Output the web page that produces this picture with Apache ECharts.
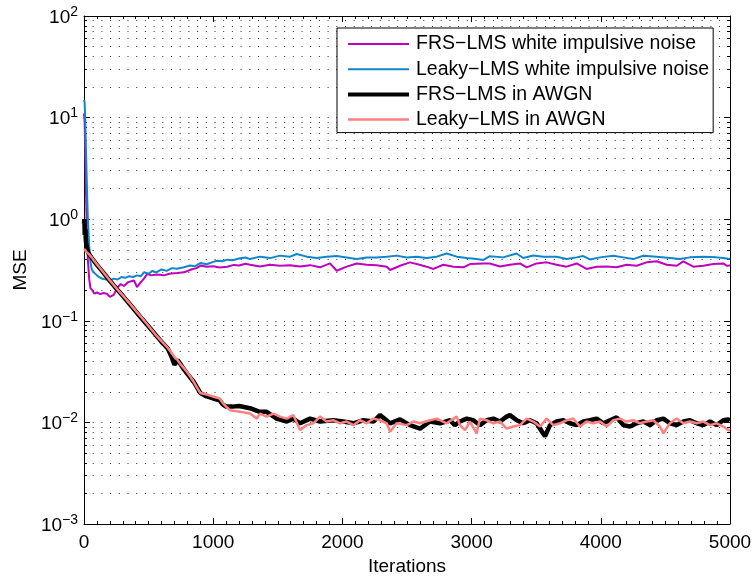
<!DOCTYPE html>
<html>
<head>
<meta charset="utf-8">
<script src="https://cdn.jsdelivr.net/npm/echarts@6/dist/echarts.min.js"></script>
<style>
html,body{margin:0;padding:0;background:#fff;}
#chart{width:755px;height:581px;}
</style>
</head>
<body>
<div id="chart"></div>
<script>
// ---- data (iteration, MSE) ----
const seriesNames = ['FRS\u2212LMS white impulsive noise', 'Leaky\u2212LMS white impulsive noise', 'FRS\u2212LMS in AWGN', 'Leaky\u2212LMS in AWGN'];
const xTicks = [0, 1000, 2000, 3000, 4000, 5000];
const yTicks = [1e-3, 1e-2, 1e-1, 1, 10, 100];

const frsImpulsive = [[0,11],[5,9],[10,4.5],[15,2],[20,1],[25,0.6],[30,0.4],[40,0.26],[50,0.21],[64,0.2],[80,0.185],[100,0.19],[125,0.183],[150,0.188],[177,0.185],[200,0.172],[230,0.18],[255,0.21],[284,0.23],[310,0.22],[340,0.24],[387,0.25],[410,0.215],[440,0.24],[464,0.26],[490,0.29],[520,0.28],[560,0.285],[620,0.28],[660,0.29],[720,0.295],[774,0.30],[830,0.32],[870,0.33],[903,0.35],[950,0.34],[1000,0.345],[1050,0.335],[1109,0.34],[1160,0.355],[1200,0.35],[1250,0.365],[1285,0.356],[1362,0.343],[1440,0.356],[1517,0.348],[1595,0.353],[1672,0.343],[1750,0.353],[1827,0.336],[1904,0.367],[1956,0.311],[2033,0.341],[2111,0.367],[2188,0.356],[2265,0.353],[2343,0.341],[2369,0.316],[2446,0.348],[2523,0.376],[2575,0.362],[2652,0.341],[2704,0.324],[2781,0.356],[2859,0.341],[2936,0.336],[2988,0.362],[3091,0.367],[3142,0.366],[3219,0.343],[3297,0.356],[3374,0.367],[3426,0.336],[3503,0.367],[3581,0.376],[3658,0.356],[3735,0.341],[3813,0.367],[3890,0.324],[3968,0.341],[4045,0.343],[4123,0.336],[4200,0.356],[4277,0.348],[4355,0.376],[4432,0.385],[4510,0.356],[4587,0.348],[4639,0.385],[4716,0.341],[4793,0.348],[4871,0.362],[4948,0.367],[4974,0.348],[5000,0.35]];

const leakyImpulsive = [[0,15],[5,14],[10,9],[15,5],[20,2.8],[25,1.6],[30,1.0],[40,0.55],[50,0.38],[60,0.32],[75,0.30],[100,0.28],[125,0.265],[150,0.258],[175,0.255],[206,0.25],[230,0.26],[260,0.255],[290,0.27],[320,0.265],[350,0.275],[380,0.27],[410,0.28],[440,0.275],[464,0.30],[500,0.29],[530,0.31],[560,0.30],[600,0.32],[640,0.31],[680,0.33],[720,0.325],[774,0.336],[820,0.35],[860,0.345],[900,0.37],[950,0.36],[1000,0.38],[1030,0.39],[1070,0.385],[1110,0.40],[1150,0.395],[1200,0.41],[1250,0.42],[1285,0.405],[1362,0.428],[1440,0.414],[1517,0.438],[1595,0.428],[1646,0.454],[1724,0.428],[1801,0.414],[1878,0.428],[1956,0.434],[2033,0.42],[2111,0.405],[2188,0.42],[2265,0.42],[2343,0.428],[2420,0.438],[2498,0.42],[2575,0.428],[2652,0.414],[2730,0.428],[2807,0.46],[2885,0.428],[2962,0.414],[3039,0.405],[3091,0.397],[3142,0.432],[3245,0.421],[3348,0.46],[3400,0.415],[3477,0.44],[3555,0.427],[3658,0.427],[3735,0.405],[3813,0.421],[3864,0.434],[3916,0.402],[3993,0.421],[4097,0.437],[4174,0.421],[4251,0.405],[4329,0.437],[4432,0.427],[4535,0.415],[4613,0.405],[4690,0.421],[4793,0.427],[4897,0.421],[4948,0.415],[5000,0.405]];

const frsAWGN = [[0,0.9],[3,1.0],[6,0.7],[10,0.8],[15,0.6],[20,0.55],[30,0.48],[40,0.45],[60,0.415],[100,0.355],[150,0.298],[200,0.248],[250,0.208],[300,0.176],[350,0.148],[400,0.124],[450,0.104],[500,0.088],[550,0.074],[600,0.062],[650,0.053],[675,0.045],[700,0.037],[725,0.041],[750,0.037],[775,0.033],[800,0.030],[850,0.025],[900,0.0195],[950,0.018],[1000,0.0172],[1050,0.0165],[1075,0.015],[1100,0.0143],[1150,0.0143],[1200,0.0145],[1285,0.0138],[1360,0.0127],[1414,0.0127],[1491,0.0109],[1569,0.0102],[1620,0.0109],[1672,0.0098],[1750,0.0109],[1827,0.0102],[1930,0.0105],[2007,0.0102],[2085,0.0098],[2162,0.0105],[2240,0.0102],[2291,0.0118],[2369,0.0098],[2446,0.0107],[2523,0.0094],[2601,0.0087],[2678,0.0102],[2756,0.0098],[2833,0.0105],[2870,0.0094],[2910,0.0102],[2962,0.0109],[3013,0.0105],[3065,0.0094],[3116,0.0105],[3168,0.0109],[3220,0.0102],[3271,0.0114],[3297,0.0118],[3349,0.0105],[3400,0.0098],[3452,0.0105],[3503,0.0098],[3545,0.0081],[3568,0.0073],[3607,0.0094],[3658,0.0102],[3710,0.0105],[3761,0.0098],[3813,0.0094],[3865,0.0102],[3916,0.0105],[3968,0.0109],[4019,0.0098],[4071,0.0105],[4123,0.0112],[4174,0.0094],[4226,0.0091],[4277,0.0098],[4329,0.0102],[4381,0.0094],[4432,0.0105],[4484,0.0109],[4535,0.0098],[4587,0.0094],[4639,0.0102],[4690,0.0105],[4742,0.0098],[4793,0.0094],[4845,0.0102],[4897,0.0094],[4948,0.0105],[4987,0.0107],[5000,0.0105]];

const leakyAWGN = [[0,0.51],[10,0.49],[20,0.475],[40,0.45],[60,0.42],[100,0.36],[150,0.30],[200,0.25],[250,0.21],[300,0.178],[350,0.150],[400,0.126],[450,0.106],[500,0.089],[550,0.074],[600,0.063],[650,0.054],[700,0.044],[725,0.041],[750,0.037],[775,0.034],[800,0.031],[825,0.028],[850,0.025],[875,0.022],[900,0.0195],[950,0.0188],[1000,0.018],[1050,0.0172],[1075,0.0155],[1100,0.0143],[1130,0.0132],[1208,0.0127],[1285,0.01225],[1337,0.0109],[1362,0.0122],[1414,0.0114],[1466,0.0122],[1517,0.0114],[1569,0.0109],[1620,0.0118],[1672,0.0084],[1724,0.0094],[1775,0.0098],[1827,0.0114],[1878,0.0102],[1930,0.0105],[1982,0.0098],[2033,0.0102],[2085,0.0094],[2136,0.0105],[2188,0.0098],[2240,0.0109],[2291,0.0105],[2343,0.0098],[2369,0.0081],[2420,0.0098],[2498,0.0094],[2549,0.0102],[2601,0.0098],[2678,0.0105],[2730,0.0109],[2807,0.0098],[2885,0.0114],[2910,0.0094],[2949,0.0084],[2987,0.0102],[3039,0.0078],[3065,0.0109],[3116,0.0105],[3168,0.0098],[3220,0.0102],[3271,0.0087],[3323,0.0091],[3374,0.0094],[3426,0.0109],[3478,0.0102],[3529,0.0091],[3581,0.0109],[3632,0.0094],[3684,0.0098],[3736,0.0105],[3787,0.0109],[3839,0.0091],[3890,0.0102],[3942,0.0098],[3994,0.0102],[4045,0.0091],[4097,0.0105],[4148,0.0109],[4200,0.0102],[4252,0.0105],[4303,0.0098],[4355,0.0102],[4406,0.0105],[4458,0.0091],[4484,0.0078],[4535,0.0098],[4587,0.0109],[4639,0.0098],[4690,0.0102],[4742,0.0098],[4793,0.0102],[4845,0.0094],[4897,0.0098],[4948,0.0091],[4987,0.0084],[5000,0.0083]];

// ---- chart ----
const FONT = '"Liberation Sans", Arial, Helvetica, sans-serif';
const COLORS = ['#BF00BF', '#0F86CC', '#000000', '#FF8080'];
const WIDTHS = [2, 2, 4.5, 2.5];
const LEGEND_WIDTHS = [2, 2, 4, 2.5];
const chart = echarts.init(document.getElementById('chart'), null, {renderer: 'canvas'});
const dotted = {color: '#333', width: 1, type: [1, 7.7]};
const axisLine = {show: true, onZero: false, lineStyle: {color: '#000', width: 1}};

function supLabel(v) {
  const e = Math.round(Math.log10(v));
  const t = e < 0 ? '\u2212' + (-e) : String(e);
  return '{b|10}{s|' + t + '}';
}
function legendIcon(w) {
  return 'path://M0,0 L61,0 L61,' + w + ' L0,' + w + ' Z';
}

const option = {
  animation: false,
  backgroundColor: '#fff',
  grid: {left: 84, right: 25, top: 16, bottom: 55, containLabel: false},
  legend: {
    orient: 'vertical',
    left: 337, top: 28,
    itemWidth: 61, itemHeight: 14, itemGap: 5.2,
    padding: [6, 4, 3, 11],
    borderColor: '#000', borderWidth: 1, backgroundColor: '#fff',
    symbolKeepAspect: true,
    textStyle: {fontFamily: FONT, fontSize: 19.5, color: '#000', padding: [0, 0, 0, 2]},
    data: seriesNames.map((n, i) => ({name: n, icon: legendIcon(LEGEND_WIDTHS[i]), itemStyle: {color: COLORS[i]}}))
  },
  xAxis: [{
    type: 'value', min: xTicks[0], max: xTicks[xTicks.length - 1], interval: 1000,
    axisLine: axisLine,
    axisTick: {show: true, inside: true, length: 6, lineStyle: {color: '#000'}},
    minorTick: {show: true, splitNumber: 10, length: 3, lineStyle: {color: '#000'}},
    splitLine: {show: false},
    axisLabel: {fontFamily: FONT, fontSize: 19, color: '#000', margin: 9, formatter: v => String(v)},
    name: 'Iterations', nameLocation: 'middle', nameGap: 33,
    nameTextStyle: {fontFamily: FONT, fontSize: 19, color: '#000'}
  }, {
    type: 'value', position: 'top', min: xTicks[0], max: xTicks[xTicks.length - 1], interval: 1000,
    axisLine: axisLine,
    axisTick: {show: true, inside: true, length: 6, lineStyle: {color: '#000'}},
    minorTick: {show: true, splitNumber: 10, length: 3, lineStyle: {color: '#000'}},
    splitLine: {show: false}, axisLabel: {show: false}
  }],
  yAxis: [{
    type: 'log', logBase: 10, min: yTicks[0], max: yTicks[yTicks.length - 1],
    axisLine: axisLine,
    axisTick: {show: true, inside: true, length: 6, lineStyle: {color: '#000'}},
    minorTick: {show: true, splitNumber: 9, length: 3, lineStyle: {color: '#000'}},
    splitLine: {show: true, lineStyle: dotted},
    minorSplitLine: {show: true, lineStyle: dotted},
    axisLabel: {
      margin: 6, color: '#000', formatter: supLabel,
      rich: {
        b: {fontFamily: FONT, fontSize: 19, color: '#000', lineHeight: 22, verticalAlign: 'bottom'},
        s: {fontFamily: FONT, fontSize: 14, color: '#000', lineHeight: 14, verticalAlign: 'top'}
      }
    },
    name: 'MSE', nameLocation: 'middle', nameGap: 54, nameRotate: 90,
    nameTextStyle: {fontFamily: FONT, fontSize: 19, color: '#000'}
  }, {
    type: 'log', logBase: 10, position: 'right', min: yTicks[0], max: yTicks[yTicks.length - 1],
    axisLine: axisLine,
    axisTick: {show: true, inside: true, length: 6, lineStyle: {color: '#000'}},
    minorTick: {show: true, splitNumber: 9, length: 3, lineStyle: {color: '#000'}},
    splitLine: {show: false}, axisLabel: {show: false}
  }],
  series: [
    {name: seriesNames[0], type: 'line', data: frsImpulsive, showSymbol: false, symbol: 'none',
     lineStyle: {color: COLORS[0], width: WIDTHS[0]}, itemStyle: {color: COLORS[0]}, z: 2},
    {name: seriesNames[1], type: 'line', data: leakyImpulsive, showSymbol: false, symbol: 'none',
     lineStyle: {color: COLORS[1], width: WIDTHS[1]}, itemStyle: {color: COLORS[1]}, z: 3},
    {name: seriesNames[2], type: 'line', data: frsAWGN, showSymbol: false, symbol: 'none',
     lineStyle: {color: COLORS[2], width: WIDTHS[2]}, itemStyle: {color: COLORS[2]}, z: 4},
    {name: seriesNames[3], type: 'line', data: leakyAWGN, showSymbol: false, symbol: 'none',
     lineStyle: {color: COLORS[3], width: WIDTHS[3]}, itemStyle: {color: COLORS[3]}, z: 5}
  ]
};
chart.setOption(option);
</script>
</body>
</html>
